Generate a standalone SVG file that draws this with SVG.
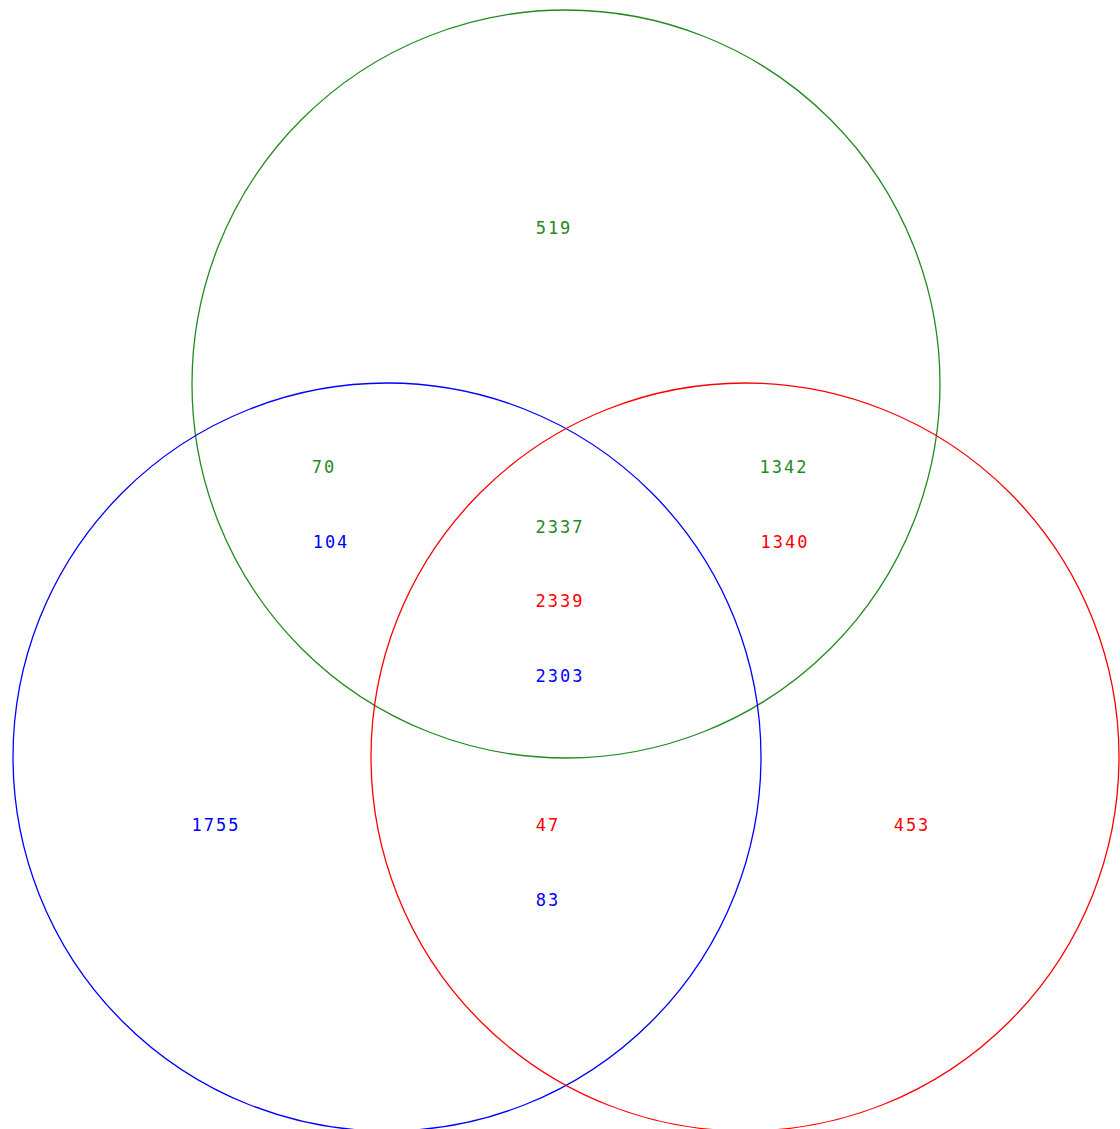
<svg xmlns="http://www.w3.org/2000/svg" width="1120" height="1129" viewBox="0 0 1120 1129">
<style>
.c{fill:none;stroke-width:1.3}
text{font-family:"DejaVu Sans Mono","Liberation Mono",monospace;font-size:17px;letter-spacing:2px;text-anchor:middle}
.g{fill:#228B22}.b{fill:#0000FF}.r{fill:#FF0000}
</style>
<rect width="1120" height="1129" fill="#fff"/>
<g id="circles">
<circle id="green" class="c" cx="566" cy="384" r="374" stroke="#228B22"/>
<circle id="blue" class="c" cx="387" cy="757" r="374" stroke="#0000FF"/>
<circle id="red" class="c" cx="745" cy="757" r="374" stroke="#FF0000"/>
</g>
<g id="labels">
<text class="g" x="554" y="234">519</text>
<text class="g" x="324" y="473">70</text>
<text class="b" x="331" y="548">104</text>
<text class="g" x="784" y="473">1342</text>
<text class="r" x="785" y="548">1340</text>
<text class="g" x="560" y="533">2337</text>
<text class="r" x="560" y="607">2339</text>
<text class="b" x="560" y="682">2303</text>
<text class="b" x="216" y="831">1755</text>
<text class="r" x="548" y="831">47</text>
<text class="b" x="548" y="906">83</text>
<text class="r" x="912" y="831">453</text>
</g>
</svg>
